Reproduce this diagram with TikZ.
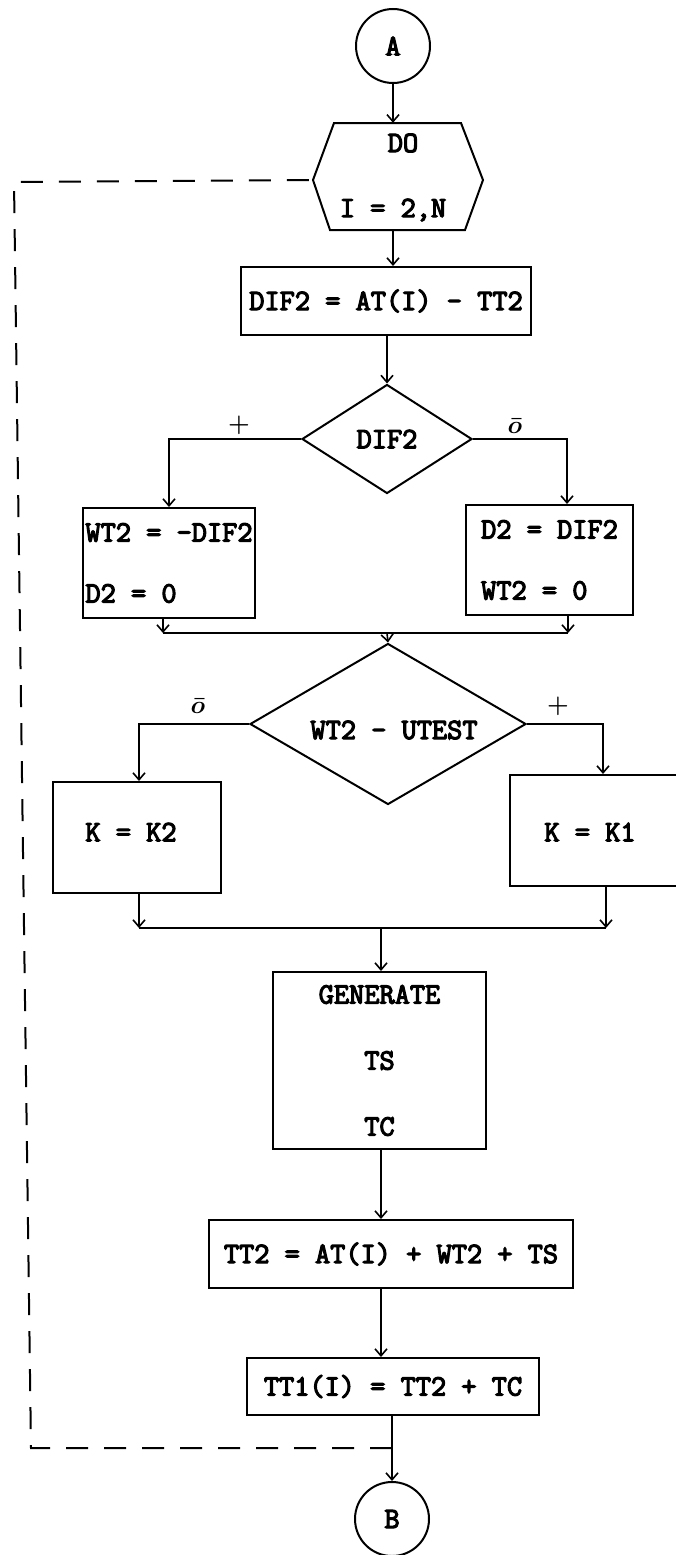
\documentclass[tikz,border=0pt]{standalone}
\usepackage{fontspec}
\newfontfamily\twfont{Latin Modern Mono}[FakeBold=4]
\usetikzlibrary{shapes.geometric,arrows.meta,calc}
\begin{document}
\begin{tikzpicture}[x=1pt,y=-1pt,
  every node/.style={font=\fontsize{29.5}{32}\selectfont\twfont},
  boxnode/.style={draw,line width=2pt,inner sep=0pt},
  decide/.style={draw,diamond,line width=2pt,inner sep=0pt},
  conn/.style={draw,circle,line width=2pt,inner sep=0pt,minimum size=74pt},
  arr/.style={line width=1.6pt,-{Straight Barb[length=7pt,width=12pt,line width=1.6pt]}},
  plain/.style={line width=1.6pt},
  loopline/.style={line width=2pt,dash pattern=on 22pt off 16pt},
  lab/.style={font=\fontsize{28}{30}\selectfont\boldmath}
]
\useasboundingbox (0,0) rectangle (676,1555);

% connectors A and B
\node[conn] (A) at (393,46) {A};
\node[conn] (B) at (392,1519) {B};

% DO hexagon
\node[inner sep=0pt,minimum width=170pt,minimum height=107pt] (do) at (398,176.5) {};
\draw[line width=2pt] (334,123) -- (461,123) -- (483,180) -- (465,230) -- (330,230) -- (313,180) -- cycle;
\coordinate (doW) at (313,180);
\node (dotxt) at (403,143) {DO};
\node (itxt) at (393,210) {I = 2,N};

% boxes
\node[boxnode,minimum width=290pt,minimum height=68pt] (b1) at (386,301) {DIF2 = AT(I) - TT2};
\node[decide,shape aspect=1.56,minimum width=170pt,minimum height=109pt] (d1) at (387,439) {DIF2};
\node[boxnode,minimum width=172pt,minimum height=110pt,align=left] (L1) at (169,563) {WT2 = -DIF2\\[29pt]D2 = 0};
\node[boxnode,minimum width=167pt,minimum height=110pt,align=left] (R1) at (549.5,560) {D2 = DIF2\\[29pt]WT2 = 0};
\node[decide,shape aspect=1.71,minimum width=276pt,minimum height=161pt] (d2) at (388,724) {};
\node (d2txt) at (394,730) {WT2 - UTEST};
\node[boxnode,minimum width=168pt,minimum height=111pt] (K2) at (137,837.5) {};
\node (k2txt) at (131,832) {K = K2};
\node[boxnode,minimum width=175pt,minimum height=111pt] (K1) at (597.5,830.5) {};
\node (k1txt) at (590,832) {K = K1};
\node[boxnode,minimum width=213pt,minimum height=177pt,align=center] (G) at (379.5,1060.5) {GENERATE\\[34pt]TS\\[34pt]TC};
\node[boxnode,minimum width=364pt,minimum height=68pt] (T2) at (391,1254) {TT2 = AT(I) + WT2 + TS};
\node[boxnode,minimum width=292pt,minimum height=57pt] (T1) at (393,1386.5) {TT1(I) = TT2 + TC};

% helper coordinates
\coordinate (c1R) at (567,438);
\coordinate (m1L) at (163,633);
\coordinate (m1R) at (568,633);
\coordinate (m1) at (387,633);
\coordinate (c2R) at (603,724);
\coordinate (c2L) at (139,724);
\coordinate (m2L) at (139,928);
\coordinate (m2R) at (606,928);
\coordinate (m2) at (381,928);
\coordinate (lp) at (392,1448);
\coordinate (lpBL) at (31,1448);
\coordinate (lpTL) at (14,182);

% flow
\draw[arr] (A.south) -- (A.south |- do.north);
\draw[arr] (A |- do.south) -- (A |- b1.north);
\draw[arr] (b1.south -| d1) -- (d1.north);
\draw[arr] (d1.west) -| (L1.north);
\draw[arr] (d1.east) -| (c1R |- R1.north);
\draw[arr] (L1.south -| m1L) -- (m1L);
\draw[arr] (R1.south -| m1R) -- (m1R);
\draw[plain] (m1L) -- (m1R);
\draw[arr] (m1) -- (d2.north);
\draw[arr] (d2.west) -| (c2L |- K2.north);
\draw[arr] (d2.east) -| (c2R |- K1.north);
\draw[arr] (K2.south -| m2L) -- (m2L);
\draw[arr] (K1.south -| m2R) -- (m2R);
\draw[plain] (m2L) -- (m2R);
\draw[arr] (m2) -- (m2 |- G.north);
\draw[arr] (m2 |- G.south) -- (m2 |- T2.north);
\draw[arr] (m2 |- T2.south) -- (m2 |- T1.north);
\draw[arr] (T1.south -| lp) -- (B.north);

% loop (dashed)
\draw[loopline] (lp) -- (lpBL) -- (lpTL) -- (doW);

% branch labels
\node[lab] (p1) at (239,425) {$+$};
\node[lab] (o1) at (515,426) {$\bar{o}$};
\node[lab] (o2) at (198,706) {$\bar{o}$};
\node[lab] (p2) at (558,706) {$+$};
\end{tikzpicture}
\end{document}
